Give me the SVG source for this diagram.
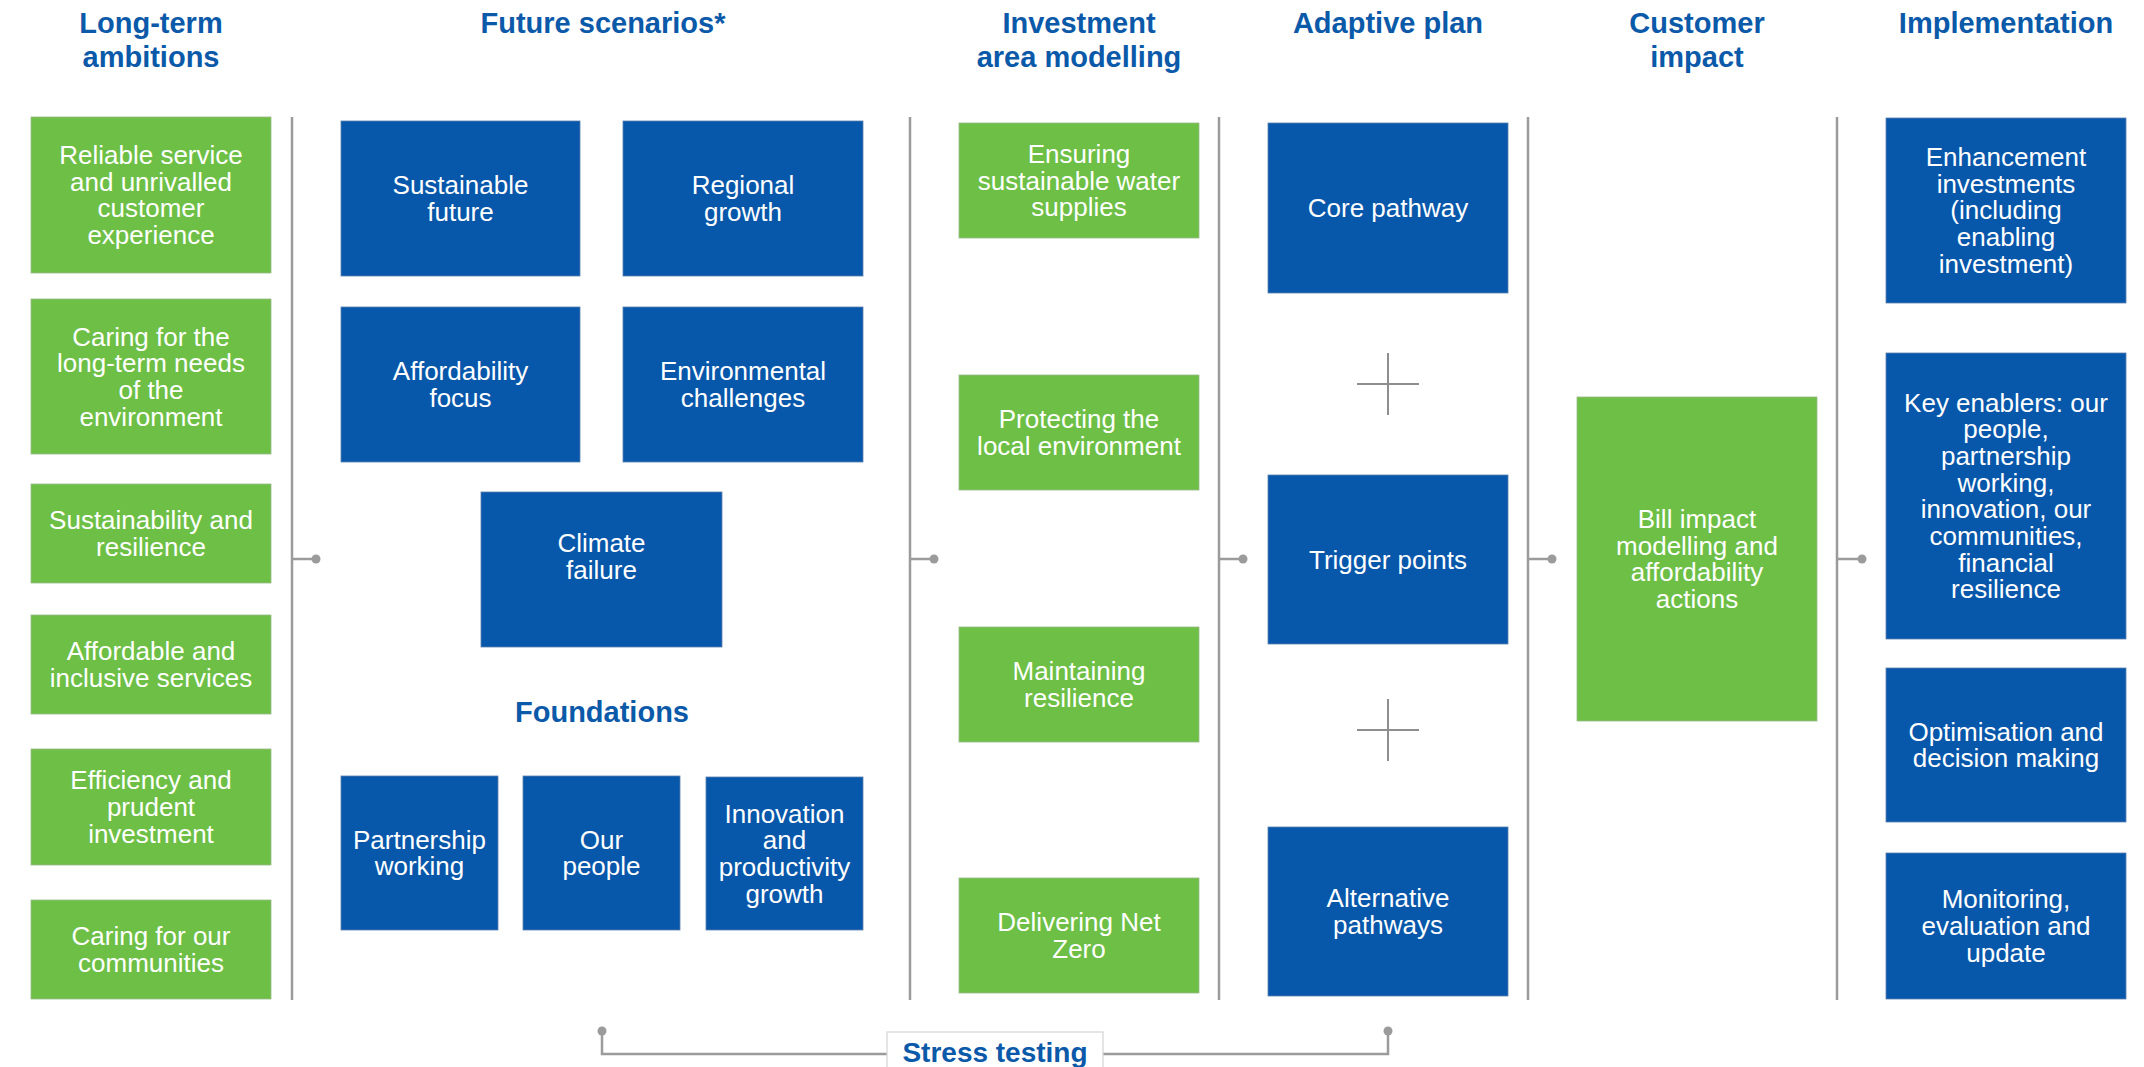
<svg xmlns="http://www.w3.org/2000/svg" width="2144" height="1067" viewBox="0 0 2144 1067">
  <defs>
    <style>
      .blue { fill: #0757ab; stroke: #5d7fb0; stroke-width: 0.8; }
      .green { fill: #6dbf45; stroke: #9ab98a; stroke-width: 0.8; }
      .lbl { font-family: "Liberation Sans", Arial, sans-serif; font-size: 26px; fill: #ffffff; text-anchor: middle; }
      .hdr { font-family: "Liberation Sans", Arial, sans-serif; font-size: 29px; font-weight: bold; fill: #0b59a9; text-anchor: middle; }
      .divider { stroke: #9b9b9b; stroke-width: 2.5; fill: none; }
      .conn { stroke: #9b9b9b; stroke-width: 2.5; fill: none; }
      .dot { fill: #9b9b9b; }
      .plus { stroke: #8e8e8e; stroke-width: 2; fill: none; }
    </style>
  </defs>

  <rect width="2144" height="1067" fill="#ffffff"/>

  <!-- column headings -->
  <g id="headings">
    <text class="hdr" x="151" y="33">Long-term</text>
    <text class="hdr" x="151" y="67">ambitions</text>
    <text class="hdr" x="603" y="33">Future scenarios*</text>
    <text class="hdr" x="1079" y="33">Investment</text>
    <text class="hdr" x="1079" y="67">area modelling</text>
    <text class="hdr" x="1388" y="33">Adaptive plan</text>
    <text class="hdr" x="1697" y="33">Customer</text>
    <text class="hdr" x="1697" y="67">impact</text>
    <text class="hdr" x="2006" y="33">Implementation</text>
    <text class="hdr" x="602" y="722">Foundations</text>
  </g>

  <!-- column dividers, stubs, plus signs and the stress-testing bracket -->
  <g id="connectors">
    <line class="divider" x1="292" y1="117" x2="292" y2="1000"/>
    <line class="divider" x1="910" y1="117" x2="910" y2="1000"/>
    <line class="divider" x1="1219" y1="117" x2="1219" y2="1000"/>
    <line class="divider" x1="1528" y1="117" x2="1528" y2="1000"/>
    <line class="divider" x1="1837" y1="117" x2="1837" y2="1000"/>

    <line class="conn" x1="292" y1="559" x2="316" y2="559"/>
    <circle class="dot" cx="316" cy="559" r="4.5"/>
    <line class="conn" x1="910" y1="559" x2="934" y2="559"/>
    <circle class="dot" cx="934" cy="559" r="4.5"/>
    <line class="conn" x1="1219" y1="559" x2="1243" y2="559"/>
    <circle class="dot" cx="1243" cy="559" r="4.5"/>
    <line class="conn" x1="1528" y1="559" x2="1552" y2="559"/>
    <circle class="dot" cx="1552" cy="559" r="4.5"/>
    <line class="conn" x1="1837" y1="559" x2="1862" y2="559"/>
    <circle class="dot" cx="1862" cy="559" r="4.5"/>

    <path class="plus" d="M1388,353 V415 M1357,384 H1419"/>
    <path class="plus" d="M1388,699 V761 M1357,730 H1419"/>

    <path class="conn" d="M602,1031 V1054 H887"/>
    <circle class="dot" cx="602" cy="1031" r="4.5"/>
    <path class="conn" d="M1388,1031 V1054 H1103"/>
    <circle class="dot" cx="1388" cy="1031" r="4.5"/>
  </g>

  <g id="stress-testing">
    <rect x="887" y="1032" width="216" height="45" fill="#ffffff" stroke="#d4d4d4" stroke-width="1.2"/>
    <text class="hdr" x="995" y="1062" style="font-size:28px">Stress testing</text>
  </g>

  <!-- Long-term ambitions -->
  <g id="amb-reliable">
    <rect class="green" x="31" y="117" width="240" height="156"/>
    <text class="lbl"><tspan x="151" y="164">Reliable service</tspan><tspan x="151" y="190.7">and unrivalled</tspan><tspan x="151" y="217.4">customer</tspan><tspan x="151" y="244.1">experience</tspan></text>
  </g>
  <g id="amb-environment">
    <rect class="green" x="31" y="299" width="240" height="155"/>
    <text class="lbl"><tspan x="151" y="345.5">Caring for the</tspan><tspan x="151" y="372.2">long-term needs</tspan><tspan x="151" y="398.9">of the</tspan><tspan x="151" y="425.6">environment</tspan></text>
  </g>
  <g id="amb-sustainability">
    <rect class="green" x="31" y="484" width="240" height="99"/>
    <text class="lbl"><tspan x="151" y="529">Sustainability and</tspan><tspan x="151" y="555.7">resilience</tspan></text>
  </g>
  <g id="amb-affordable">
    <rect class="green" x="31" y="615" width="240" height="99"/>
    <text class="lbl"><tspan x="151" y="660">Affordable and</tspan><tspan x="151" y="686.7">inclusive services</tspan></text>
  </g>
  <g id="amb-efficiency">
    <rect class="green" x="31" y="749" width="240" height="116"/>
    <text class="lbl"><tspan x="151" y="789.3">Efficiency and</tspan><tspan x="151" y="816">prudent</tspan><tspan x="151" y="842.7">investment</tspan></text>
  </g>
  <g id="amb-communities">
    <rect class="green" x="31" y="900" width="240" height="99"/>
    <text class="lbl"><tspan x="151" y="945">Caring for our</tspan><tspan x="151" y="971.7">communities</tspan></text>
  </g>

  <!-- Future scenarios -->
  <g id="scn-sustainable">
    <rect class="blue" x="341" y="121" width="239" height="155"/>
    <text class="lbl"><tspan x="460.5" y="194">Sustainable</tspan><tspan x="460.5" y="220.7">future</tspan></text>
  </g>
  <g id="scn-regional">
    <rect class="blue" x="623" y="121" width="240" height="155"/>
    <text class="lbl"><tspan x="743" y="194">Regional</tspan><tspan x="743" y="220.7">growth</tspan></text>
  </g>
  <g id="scn-affordability">
    <rect class="blue" x="341" y="307" width="239" height="155"/>
    <text class="lbl"><tspan x="460.5" y="380">Affordability</tspan><tspan x="460.5" y="406.7">focus</tspan></text>
  </g>
  <g id="scn-environmental">
    <rect class="blue" x="623" y="307" width="240" height="155"/>
    <text class="lbl"><tspan x="743" y="380">Environmental</tspan><tspan x="743" y="406.7">challenges</tspan></text>
  </g>
  <g id="scn-climate">
    <rect class="blue" x="481" y="492" width="241" height="155"/>
    <text class="lbl"><tspan x="601.5" y="552">Climate</tspan><tspan x="601.5" y="578.7">failure</tspan></text>
  </g>

  <!-- Foundations -->
  <g id="fnd-partnership">
    <rect class="blue" x="341" y="776" width="157" height="154"/>
    <text class="lbl"><tspan x="419.5" y="848.7">Partnership</tspan><tspan x="419.5" y="875.4">working</tspan></text>
  </g>
  <g id="fnd-people">
    <rect class="blue" x="523" y="776" width="157" height="154"/>
    <text class="lbl"><tspan x="601.5" y="848.7">Our</tspan><tspan x="601.5" y="875.4">people</tspan></text>
  </g>
  <g id="fnd-innovation">
    <rect class="blue" x="706" y="777" width="157" height="153"/>
    <text class="lbl"><tspan x="784.5" y="822.5">Innovation</tspan><tspan x="784.5" y="849.2">and</tspan><tspan x="784.5" y="875.9">productivity</tspan><tspan x="784.5" y="902.6">growth</tspan></text>
  </g>

  <!-- Investment area modelling -->
  <g id="inv-water">
    <rect class="green" x="959" y="123" width="240" height="115"/>
    <text class="lbl"><tspan x="1079" y="162.8">Ensuring</tspan><tspan x="1079" y="189.5">sustainable water</tspan><tspan x="1079" y="216.2">supplies</tspan></text>
  </g>
  <g id="inv-environment">
    <rect class="green" x="959" y="375" width="240" height="115"/>
    <text class="lbl"><tspan x="1079" y="428">Protecting the</tspan><tspan x="1079" y="454.7">local environment</tspan></text>
  </g>
  <g id="inv-resilience">
    <rect class="green" x="959" y="627" width="240" height="115"/>
    <text class="lbl"><tspan x="1079" y="680">Maintaining</tspan><tspan x="1079" y="706.7">resilience</tspan></text>
  </g>
  <g id="inv-netzero">
    <rect class="green" x="959" y="878" width="240" height="115"/>
    <text class="lbl"><tspan x="1079" y="931">Delivering Net</tspan><tspan x="1079" y="957.7">Zero</tspan></text>
  </g>

  <!-- Adaptive plan -->
  <g id="plan-core">
    <rect class="blue" x="1268" y="123" width="240" height="170"/>
    <text class="lbl" x="1388" y="217">Core pathway</text>
  </g>
  <g id="plan-trigger">
    <rect class="blue" x="1268" y="475" width="240" height="169"/>
    <text class="lbl" x="1388" y="568.5">Trigger points</text>
  </g>
  <g id="plan-alternative">
    <rect class="blue" x="1268" y="827" width="240" height="169"/>
    <text class="lbl"><tspan x="1388" y="907">Alternative</tspan><tspan x="1388" y="933.7">pathways</tspan></text>
  </g>

  <!-- Customer impact -->
  <g id="cust-bill">
    <rect class="green" x="1577" y="397" width="240" height="324"/>
    <text class="lbl"><tspan x="1697" y="528">Bill impact</tspan><tspan x="1697" y="554.7">modelling and</tspan><tspan x="1697" y="581.4">affordability</tspan><tspan x="1697" y="608.1">actions</tspan></text>
  </g>

  <!-- Implementation -->
  <g id="impl-enhancement">
    <rect class="blue" x="1886" y="118" width="240" height="185"/>
    <text class="lbl"><tspan x="2006" y="166">Enhancement</tspan><tspan x="2006" y="192.7">investments</tspan><tspan x="2006" y="219.4">(including</tspan><tspan x="2006" y="246.1">enabling</tspan><tspan x="2006" y="272.8">investment)</tspan></text>
  </g>
  <g id="impl-enablers">
    <rect class="blue" x="1886" y="353" width="240" height="286"/>
    <text class="lbl"><tspan x="2006" y="411.5">Key enablers: our</tspan><tspan x="2006" y="438.2">people,</tspan><tspan x="2006" y="464.9">partnership</tspan><tspan x="2006" y="491.6">working,</tspan><tspan x="2006" y="518.3">innovation, our</tspan><tspan x="2006" y="545">communities,</tspan><tspan x="2006" y="571.7">financial</tspan><tspan x="2006" y="598.4">resilience</tspan></text>
  </g>
  <g id="impl-optimisation">
    <rect class="blue" x="1886" y="668" width="240" height="154"/>
    <text class="lbl"><tspan x="2006" y="740.5">Optimisation and</tspan><tspan x="2006" y="767.2">decision making</tspan></text>
  </g>
  <g id="impl-monitoring">
    <rect class="blue" x="1886" y="853" width="240" height="146"/>
    <text class="lbl"><tspan x="2006" y="908.3">Monitoring,</tspan><tspan x="2006" y="935">evaluation and</tspan><tspan x="2006" y="961.7">update</tspan></text>
  </g>
</svg>
